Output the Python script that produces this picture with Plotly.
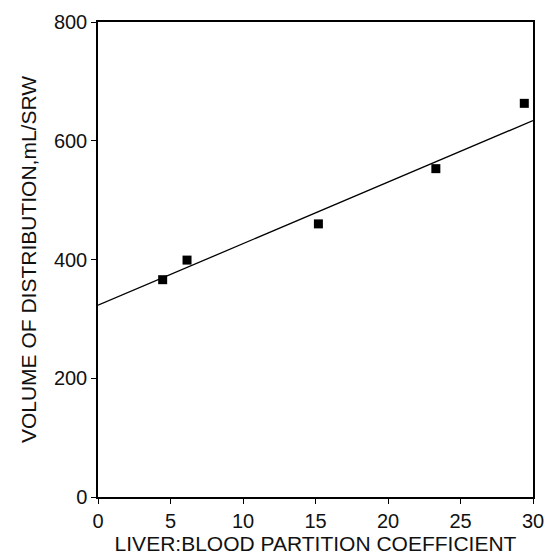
import plotly.graph_objects as go

# Data
partition_coef = [4.46, 6.14, 15.2, 23.3, 29.4]
volume_dist = [366, 399, 460, 553, 663]

# Regression line as drawn (end points)
fit_x = [0, 30]
fit_y = [323, 634]

x_ticks = [0, 5, 10, 15, 20, 25, 30]
y_ticks = [0, 200, 400, 600, 800]

font_family = "Liberation Sans, Arial, Helvetica, sans-serif"

fig = go.Figure()
fig.add_trace(go.Scatter(
    x=fit_x, y=fit_y, mode="lines",
    line=dict(color="black", width=1.3),
    showlegend=False, hoverinfo="skip",
))
fig.add_trace(go.Scatter(
    x=partition_coef, y=volume_dist, mode="markers",
    marker=dict(symbol="square", size=9, color="black"),
    showlegend=False,
))

fig.update_layout(
    width=555, height=559,
    margin=dict(l=98, r=11, t=20, b=54, pad=0),
    paper_bgcolor="white", plot_bgcolor="white",
    font=dict(family=font_family, color="#111111", size=20),
    xaxis=dict(
        range=[0, 30], tickvals=x_ticks, ticktext=[str(v) for v in x_ticks],
        showgrid=False, zeroline=False,
        showline=True, linecolor="black", linewidth=1.5, mirror=True,
        ticks="outside", ticklen=5, tickwidth=1, tickcolor="black",
        tickfont=dict(size=20),
        title=dict(text="LIVER:BLOOD PARTITION COEFFICIENT", font=dict(size=21), standoff=2),
    ),
    yaxis=dict(
        range=[0, 800], tickvals=y_ticks, ticktext=[str(v) for v in y_ticks],
        showgrid=False, zeroline=False,
        showline=True, linecolor="black", linewidth=1.5, mirror=True,
        ticks="outside", ticklen=5, tickwidth=1, tickcolor="black",
        tickfont=dict(size=20),
        title=dict(text="VOLUME OF DISTRIBUTION,mL/SRW", font=dict(size=21), standoff=12),
    ),
)

fig.write_html("out.html")
